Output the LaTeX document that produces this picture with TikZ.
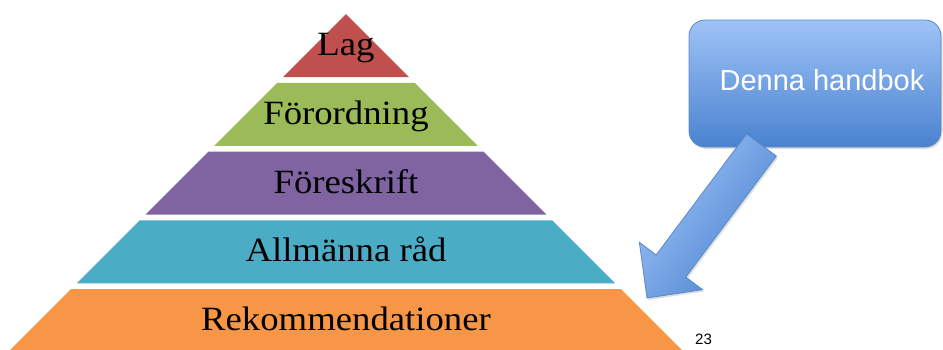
\documentclass[tikz,border=0pt]{standalone}
\usepackage{fontspec}
\setmainfont{Liberation Serif}[FakeStretch=1.08]
\newfontfamily\handfont{Liberation Sans}
\usetikzlibrary{calc,shadows}

\definecolor{lagred}{HTML}{C0504D}
\definecolor{forgreen}{HTML}{9BBB59}
\definecolor{forpurple}{HTML}{8064A2}
\definecolor{radteal}{HTML}{4BACC6}
\definecolor{rekorange}{HTML}{F79646}
\definecolor{handlight}{HTML}{9EC3F7}
\definecolor{handdark}{HTML}{4A82CF}
\definecolor{handedge}{HTML}{5A88C8}

\tikzset{
  layertext/.style={anchor=base, inner sep=0pt, font=\fontsize{34}{34}\selectfont},
  handbox/.style={rounded corners=16pt, minimum width=252pt, minimum height=127pt,
    top color=handlight, bottom color=handdark, draw=handedge, line width=0.8pt,
    drop shadow={opacity=0.25, shadow xshift=1.5pt, shadow yshift=-2pt}},
  handtext/.style={anchor=base, inner sep=0pt, text=white,
    font=\handfont\fontsize{29}{29}\selectfont},
  handarrow/.style={top color=handlight, bottom color=handdark, shading angle=53,
    draw=handedge, line width=0.8pt, line join=miter,
    drop shadow={opacity=0.25, shadow xshift=1.5pt, shadow yshift=-2pt}},
}

\begin{document}
\begin{tikzpicture}[x=1pt,y=-1pt]
  \useasboundingbox (0,0) rectangle (943,349);
  \clip (0,0) rectangle (943,349);

  % pyramid, one slice per level
  \foreach \col/\txt [count=\i from 0] in {lagred/Lag, forgreen/Förordning,
      forpurple/Föreskrift, radteal/Allmänna råd, rekorange/Rekommendationer}
  {
    \pgfmathsetmacro\ytop{14+68.75*\i}
    \pgfmathsetmacro\ybot{\ytop+63}
    \fill[\col] (346-\ytop+14,\ytop) -- (346+\ytop-14,\ytop)
      -- (346+\ybot-14,\ybot) -- (346-\ybot+14,\ybot) -- cycle;
    \node[layertext] (lvl\i) at (346,\ytop+41.5) {\txt};
  }

  \node[handbox] (hand) at (815,83.5) {};
  \node[handtext] (handlabel) at (822,90.5) {Denna handbok};

  % block arrow from the box down to the pyramid
  \coordinate (tail) at (761.5,145);
  \coordinate (tip) at (647,298);
  \coordinate (hb) at ($(tip)!40pt!(tail)$);
  \shade[handarrow] ($(tail)!18.5pt!90:(tip)$) -- ($(hb)!18.5pt!90:(tip)$)
    -- ($(hb)!39.5pt!90:(tip)$) -- (tip) -- ($(hb)!39.5pt!-90:(tip)$)
    -- ($(hb)!18.5pt!-90:(tip)$) -- ($(tail)!18.5pt!-90:(tip)$) -- cycle;

  \node[anchor=north west, inner sep=0pt, font=\handfont\fontsize{15}{15}\selectfont]
    (page) at (695,334) {23};
\end{tikzpicture}
\end{document}
